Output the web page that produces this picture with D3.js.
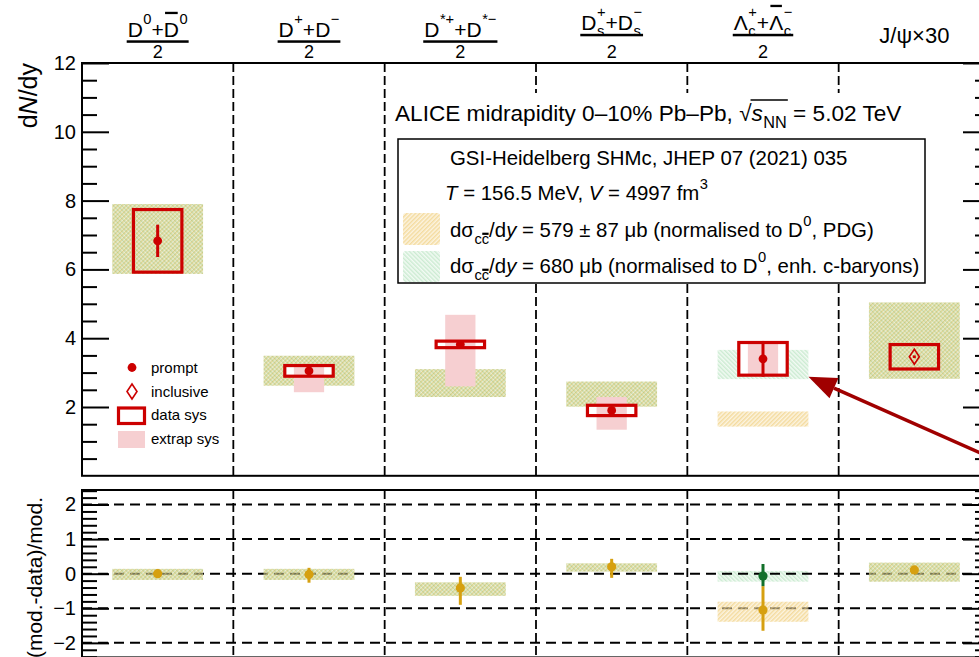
<!DOCTYPE html>
<html>
<head>
<meta charset="utf-8">
<script src="https://cdn.jsdelivr.net/npm/d3@7"></script>
<style>
body { margin: 0; background: #fff; }
svg { font-family: "Liberation Sans", Arial, Helvetica, sans-serif; }
svg text { white-space: pre; }
</style>
</head>
<body>
<svg id="drawing_region" width="979" height="657"></svg>
<script>
// category labels: numerator tokens and denominator
const catNum = [
    [{t:'D', sup:'0'}, {t:'+'}, {t:'D', bar:true, sup:'0'}],
    [{t:'D', sup:'+'}, {t:'+'}, {t:'D', sup:'−'}],
    [{t:'D', sup:'*+'}, {t:'+'}, {t:'D', sup:'*−'}],
    [{t:'D', sup:'+', sub:'s'}, {t:'+'}, {t:'D', sup:'−', sub:'s'}],
    [{t:'Λ', sup:'+', sub:'c'}, {t:'+'}, {t:'Λ', bar:true, sup:'−', sub:'c'}],
    [{t:'J/ψ×30'}]
];
const catDen = ['2', '2', '2', '2', '2', null];

// measured dN/dy
const dataVal  = [6.83, 3.05, 3.82, 1.90, 3.40, 3.46];
const dataStat = [0.47, 0.06, 0.04, 0.05, 0.52, 0.04];
const dataSys  = [0.91, 0.155, 0.095, 0.15, 0.475, 0.355];
const extrapLo = [0, 0.62, 1.22, 0.56, 0.46, 0];
const extrapHi = [0, 0.12, 0.86, 0.39, 0.46, 0];
const dataType = ['prompt', 'prompt', 'prompt', 'prompt', 'prompt', 'inclusive'];

// SHMc predictions, PDG normalisation (yellow) and enhanced c-baryons (green)
const mod1Lo = [5.87, 2.62, 2.29, 2.01, 1.43, 2.82];
const mod1Hi = [7.90, 3.49, 3.10, 2.74, 1.87, 5.04];
const mod2Lo = [5.87, 2.62, 2.29, 2.01, 2.81, 2.82];
const mod2Hi = [7.90, 3.49, 3.10, 2.74, 3.66, 5.04];

// (mod.-data)/mod.
const rat1BandLo = [-0.18, -0.18, -0.64, 0.06, -1.39, -0.23];
const rat1BandHi = [0.14, 0.14, -0.25, 0.30, -0.81, 0.32];
const rat2BandLo = [-0.18, -0.18, -0.64, 0.06, -0.23, -0.23];
const rat2BandHi = [0.14, 0.14, -0.25, 0.30, 0.08, 0.32];
const rat1Val   = [0.0, -0.02, -0.41, 0.20, -1.05, 0.11];
const rat1ErrHi = [0.04, 0.19, 0.32, 0.23, 0.69, 0.0];
const rat1ErrLo = [0.04, 0.24, 0.49, 0.32, 0.60, 0.0];
const rat2Val   = [null, null, null, null, -0.07, null];
const rat2ErrHi = [0, 0, 0, 0, 0.35, 0];
const rat2ErrLo = [0, 0, 0, 0, 0.29, 0];

const yTopTicks = [2, 4, 6, 8, 10, 12];
const yBotTicks = [-2, -1, 0, 1, 2];

const RED = '#cc0000', PINK = '#f6cfd1', GOLD = '#d6a010', GREEN = '#12702a';

const svg = d3.select('#drawing_region');
const left = 82, right = 990;
const x = d3.scaleLinear().domain([0, 6]).range([left, right]);
const yT = d3.scaleLinear().domain([0, 12]).range([475.8, 63]);
const yB = d3.scaleLinear().domain([-2.42, 2.42]).range([657.4, 490]);
const idx = d3.range(6);

// patterns
const defs = svg.append('defs');
function hatch(id, color, angle) {
    const p = defs.append('pattern').attr('id', id)
        .attr('patternUnits', 'userSpaceOnUse').attr('width', 3).attr('height', 3)
        .attr('patternTransform', `rotate(${angle})`);
    p.append('rect').attr('width', 3).attr('height', 3).attr('fill', color.bg);
    p.append('rect').attr('width', 1.5).attr('height', 3).attr('fill', color.fg);
}
hatch('hatchY', {bg: 'rgba(250,234,195,0.5)', fg: 'rgba(238,202,115,0.6)'}, 45);
hatch('hatchG', {bg: 'rgba(225,243,228,0.4)', fg: 'rgba(165,222,178,0.5)'}, -45);

defs.append('clipPath').attr('id', 'clipTop').append('rect')
    .attr('x', left).attr('y', 63).attr('width', right - left).attr('height', 475.8 - 63);
defs.append('clipPath').attr('id', 'clipBot').append('rect')
    .attr('x', left).attr('y', 490).attr('width', right - left).attr('height', 167.4);

// rich text helper
function rich(parent, tokens, fs, opt) {
    opt = opt || {};
    const g = parent.append('g');
    const sfs = fs * (opt.ss || 0.72);
    let cx = 0;
    tokens.forEach(tk => {
        let w = 0;
        const x0 = cx;
        if (tk.t) {
            const m = g.append('text').attr('x', cx).attr('y', 0)
                .style('font-size', fs + 'px').text(tk.t);
            if (tk.it) m.style('font-style', 'italic');
            w = m.node().getComputedTextLength();
            if (tk.bar) g.append('rect').attr('x', cx + fs * 0.06).attr('y', -fs * 1.2)
                .attr('width', w - fs * 0.12).attr('height', fs * 0.11);
        }
        let w2 = 0;
        if (tk.sup) {
            const s = g.append('text').attr('x', cx + w + 0.5).attr('y', -fs * (opt.supUp || 0.5))
                .style('font-size', sfs + 'px').text(tk.sup);
            w2 = s.node().getComputedTextLength() + 0.5;
        }
        if (tk.sub) {
            const s = g.append('text').attr('x', cx + w + 0.5).attr('y', fs * (opt.subDn || 0.28))
                .style('font-size', sfs + 'px').text(tk.sub);
            const sw = s.node().getComputedTextLength();
            if (tk.subBar) g.append('rect').attr('x', cx + w + 0.5 + sw / 2 + 0.5)
                .attr('y', fs * (opt.subDn || 0.28) - sfs * 0.78).attr('width', sw / 2 - 1).attr('height', 2.2);
            w2 = Math.max(w2, sw + 0.5);
        }
        cx += w + w2;
        if (tk.sqrt) g.append('line').attr('x1', x0 + tk.sqrt).attr('x2', cx + 1)
            .attr('y1', -fs * 0.93).attr('y2', -fs * 0.93).attr('stroke', '#000').attr('stroke-width', 1.3);
    });
    return {g: g, width: cx};
}

// ---------- top panel ----------
const topG = svg.append('g');
const topData = topG.append('g').attr('clip-path', 'url(#clipTop)');

// separators
topG.selectAll('.sepT').data(d3.range(1, 6)).join('line')
    .attr('x1', d => x(d)).attr('x2', d => x(d)).attr('y1', 63).attr('y2', 475.8)
    .attr('stroke', '#000').attr('stroke-width', 1.8).attr('stroke-dasharray', '9,4');

// model bands
topData.selectAll('.m1').data(idx).join('rect')
    .attr('x', i => x(i + 0.2)).attr('width', x(0.6) - x(0))
    .attr('y', i => yT(mod1Hi[i])).attr('height', i => yT(mod1Lo[i]) - yT(mod1Hi[i]))
    .attr('fill', 'url(#hatchY)');
topData.selectAll('.m2').data(idx).join('rect')
    .attr('x', i => x(i + 0.2)).attr('width', x(0.6) - x(0))
    .attr('y', i => yT(mod2Hi[i])).attr('height', i => yT(mod2Lo[i]) - yT(mod2Hi[i]))
    .attr('fill', 'url(#hatchG)').style('mix-blend-mode', 'multiply');

// white interior of data boxes that carry extrapolation uncertainty
const withExtrap = idx.filter(i => extrapLo[i] + extrapHi[i] > 0);
topData.selectAll('.wfill').data(withExtrap).join('rect')
    .attr('x', i => x(i + 0.34)).attr('width', x(0.32) - x(0))
    .attr('y', i => yT(dataVal[i] + dataSys[i])).attr('height', i => yT(dataVal[i] - dataSys[i]) - yT(dataVal[i] + dataSys[i]))
    .attr('fill', '#fff');
topData.selectAll('.extrap').data(withExtrap).join('rect')
    .attr('x', i => x(i + 0.4)).attr('width', x(0.2) - x(0))
    .attr('y', i => yT(dataVal[i] + extrapHi[i])).attr('height', i => yT(dataVal[i] - extrapLo[i]) - yT(dataVal[i] + extrapHi[i]))
    .attr('fill', PINK);
topData.selectAll('.sys').data(idx).join('rect')
    .attr('x', i => x(i + 0.34)).attr('width', x(0.32) - x(0))
    .attr('y', i => yT(dataVal[i] + dataSys[i])).attr('height', i => yT(dataVal[i] - dataSys[i]) - yT(dataVal[i] + dataSys[i]))
    .attr('fill', 'none').attr('stroke', RED).attr('stroke-width', 3.2);
topData.selectAll('.stat').data(idx).join('line')
    .attr('x1', i => x(i + 0.5)).attr('x2', i => x(i + 0.5))
    .attr('y1', i => yT(dataVal[i] + dataStat[i])).attr('y2', i => yT(dataVal[i] - dataStat[i]))
    .attr('stroke', RED).attr('stroke-width', 3);
topData.selectAll('.prompt').data(idx.filter(i => dataType[i] === 'prompt')).join('circle')
    .attr('cx', i => x(i + 0.5)).attr('cy', i => yT(dataVal[i])).attr('r', 4.4).attr('fill', RED);
const diamond = (cx, cy) => `M${cx},${cy - 7.5}L${cx + 5},${cy}L${cx},${cy + 7.5}L${cx - 5},${cy}Z`;
topData.selectAll('.incl').data(idx.filter(i => dataType[i] === 'inclusive')).join('path')
    .attr('d', i => diamond(x(i + 0.5), yT(dataVal[i])))
    .attr('fill', 'none').attr('stroke', RED).attr('stroke-width', 1.6);

// axes
function addAxis(g, scale, side, xpos, major, minor, fmt) {
    const mk = side === 'left' ? d3.axisLeft : d3.axisRight;
    const a = g.append('g').attr('transform', `translate(${xpos},0)`)
        .call(mk(scale).tickValues(major).tickSize(-27).tickPadding(6).tickFormat(fmt));
    const b = g.append('g').attr('transform', `translate(${xpos},0)`)
        .call(mk(scale).tickValues(minor).tickSize(-15).tickFormat(''));
    [a, b].forEach(s => {
        s.select('.domain').remove();
        s.selectAll('line').attr('stroke', '#000').attr('stroke-width', 2);
        s.selectAll('text').style('font-size', '20px').attr('fill', '#000')
            .style('font-family', '"Liberation Sans", Arial, sans-serif');
    });
}
const topMinor = d3.range(1, 24).map(v => v / 2).filter(v => v % 2 !== 0);
addAxis(topG, yT, 'left', left, yTopTicks, topMinor, d3.format('d'));
addAxis(topG, yT, 'right', right, yTopTicks, topMinor, () => '');

topG.append('rect').attr('x', left).attr('y', 63).attr('width', right - left).attr('height', 475.8 - 63)
    .attr('fill', 'none').attr('stroke', '#000').attr('stroke-width', 2);

// y title
const ttl = topG.append('text').attr('transform', 'translate(37,63) rotate(-90)')
    .attr('text-anchor', 'end').style('font-size', '25px');
ttl.append('tspan').text('d');
ttl.append('tspan').style('font-style', 'italic').text('N');
ttl.append('tspan').text('/dy');

// category labels
idx.forEach(i => {
    const cx = x(i + 0.5);
    if (!catDen[i]) {
        const r = rich(svg, catNum[i], 22);
        r.g.attr('transform', `translate(${cx - r.width / 2},43)`);
        return;
    }
    const hasSub = catNum[i].some(t => t.sub);
    const barY = hasSub ? 35 : 41.5;
    const r = rich(svg, catNum[i], 21, {ss: 0.7, supUp: 0.62});
    r.g.attr('transform', `translate(${cx - r.width / 2},${hasSub ? 30 : 37})`);
    svg.append('rect').attr('x', cx - r.width / 2 - 1).attr('width', r.width + 2)
        .attr('y', barY - 1.2).attr('height', 2.5).attr('fill', '#000');
    svg.append('text').attr('x', cx).attr('y', 58).attr('text-anchor', 'middle')
        .style('font-size', '18px').text(catDen[i]);
});

// header text with white background
svg.append('rect').attr('x', 390).attr('y', 93).attr('width', 535).attr('height', 46).attr('fill', '#fff');
const alice = rich(svg, [
    {t: 'ALICE midrapidity 0–10% Pb–Pb, '},
    {t: '√'},
    {t: 's', it: true, sub: 'NN', sqrt: -1},
    {t: ' = 5.02 TeV'}
], 22.6, {subDn: 0.3});
alice.g.attr('transform', 'translate(395,121)');

// model legend box
const LFS = 20.4;
svg.append('rect').attr('x', 398).attr('y', 139).attr('width', 527).attr('height', 144)
    .attr('fill', '#fff').attr('stroke', '#000').attr('stroke-width', 1.5);
rich(svg, [{t: 'GSI-Heidelberg SHMc, JHEP 07 (2021) 035'}], LFS).g.attr('transform', 'translate(450,165)');
rich(svg, [{t: 'T', it: true}, {t: ' = 156.5 MeV, '}, {t: 'V', it: true}, {t: ' = 4997 fm', sup: '3'}], LFS, {supUp: 0.55})
    .g.attr('transform', 'translate(445,200)');
rich(svg, [{t: 'dσ', sub: 'cc', subBar: true}, {t: '/d'}, {t: 'y', it: true},
    {t: ' = 579 ± 87 μb (normalised to D', sup: '0'}, {t: ', PDG)'}], LFS, {supUp: 0.55, subDn: 0.35})
    .g.attr('transform', 'translate(450,237)');
rich(svg, [{t: 'dσ', sub: 'cc', subBar: true}, {t: '/d'}, {t: 'y', it: true},
    {t: ' = 680 μb (normalised to D', sup: '0'}, {t: ', enh. c-baryons)'}], LFS, {supUp: 0.55, subDn: 0.35})
    .g.attr('transform', 'translate(450,273)');
svg.append('rect').attr('x', 403).attr('y', 213).attr('width', 37).attr('height', 32).attr('rx', 3)
    .attr('fill', 'url(#hatchY)');
svg.append('rect').attr('x', 403).attr('y', 251).attr('width', 37).attr('height', 31).attr('rx', 3)
    .attr('fill', 'url(#hatchG)');

// data legend
const lg = svg.append('g').style('font-size', '15px');
lg.append('circle').attr('cx', 132).attr('cy', 367.5).attr('r', 4.4).attr('fill', RED);
lg.append('path').attr('d', diamond(132, 391.5)).attr('fill', 'none').attr('stroke', RED).attr('stroke-width', 1.6);
lg.append('rect').attr('x', 118.5).attr('y', 408).attr('width', 26).attr('height', 15.5)
    .attr('fill', 'none').attr('stroke', RED).attr('stroke-width', 3.2);
lg.append('rect').attr('x', 118).attr('y', 431).attr('width', 27).attr('height', 17).attr('fill', PINK);
[['prompt', 372.5], ['inclusive', 396.5], ['data sys', 420], ['extrap sys', 444]].forEach(d => {
    lg.append('text').attr('x', 151).attr('y', d[1]).text(d[0]);
});

// ---------- bottom panel ----------
const botG = svg.append('g');
const botData = botG.append('g').attr('clip-path', 'url(#clipBot)');
botData.selectAll('.grid').data(yBotTicks).join('line')
    .attr('x1', left).attr('x2', right).attr('y1', d => yB(d)).attr('y2', d => yB(d))
    .attr('stroke', '#000').attr('stroke-width', 2).attr('stroke-dasharray', '10,6');
botData.selectAll('.sepB').data(d3.range(1, 6)).join('line')
    .attr('x1', d => x(d)).attr('x2', d => x(d)).attr('y1', 490).attr('y2', 657.4)
    .attr('stroke', '#000').attr('stroke-width', 1.8).attr('stroke-dasharray', '9,4');

botData.selectAll('.rb1').data(idx).join('rect')
    .attr('x', i => x(i + 0.2)).attr('width', x(0.6) - x(0))
    .attr('y', i => yB(rat1BandHi[i])).attr('height', i => yB(rat1BandLo[i]) - yB(rat1BandHi[i]))
    .attr('fill', 'url(#hatchY)');
botData.selectAll('.rb2').data(idx).join('rect')
    .attr('x', i => x(i + 0.2)).attr('width', x(0.6) - x(0))
    .attr('y', i => yB(rat2BandHi[i])).attr('height', i => yB(rat2BandLo[i]) - yB(rat2BandHi[i]))
    .attr('fill', 'url(#hatchG)').style('mix-blend-mode', 'multiply');

botData.selectAll('.re1').data(idx).join('line')
    .attr('x1', i => x(i + 0.5)).attr('x2', i => x(i + 0.5))
    .attr('y1', i => yB(rat1Val[i] + rat1ErrHi[i])).attr('y2', i => yB(rat1Val[i] - rat1ErrLo[i]))
    .attr('stroke', GOLD).attr('stroke-width', 3);
botData.selectAll('.rp1').data(idx).join('circle')
    .attr('cx', i => x(i + 0.5)).attr('cy', i => yB(rat1Val[i])).attr('r', 4.6).attr('fill', GOLD);
const has2 = idx.filter(i => rat2Val[i] !== null);
botData.selectAll('.re2').data(has2).join('line')
    .attr('x1', i => x(i + 0.5)).attr('x2', i => x(i + 0.5))
    .attr('y1', i => yB(rat2Val[i] + rat2ErrHi[i])).attr('y2', i => yB(rat2Val[i] - rat2ErrLo[i]))
    .attr('stroke', GREEN).attr('stroke-width', 3);
botData.selectAll('.rp2').data(has2).join('circle')
    .attr('cx', i => x(i + 0.5)).attr('cy', i => yB(rat2Val[i])).attr('r', 4.6).attr('fill', GREEN);

const botMinor = d3.range(-12, 13).map(v => v / 5).filter(v => Math.abs(v - Math.round(v)) > 1e-6);
addAxis(botG, yB, 'left', left, yBotTicks, botMinor, d3.format('d'));
addAxis(botG, yB, 'right', right, yBotTicks, botMinor, () => '');
botG.append('rect').attr('x', left).attr('y', 490).attr('width', right - left).attr('height', 167.4)
    .attr('fill', 'none').attr('stroke', '#000').attr('stroke-width', 2);
botG.append('text').attr('transform', 'translate(42,497) rotate(-90)')
    .attr('text-anchor', 'end').style('font-size', '21px').text('(mod.-data)/mod.');

// arrow pointing at the Lambda_c enhanced prediction
const tip = [x(4.8), yT(2.88)], tail = [x(6.07), yT(0.4)];
const len = Math.hypot(tip[0] - tail[0], tip[1] - tail[1]);
const ux = (tail[0] - tip[0]) / len, uy = (tail[1] - tip[1]) / len;
const bx = tip[0] + 28 * ux, by = tip[1] + 28 * uy;
svg.append('line').attr('x1', tail[0]).attr('y1', tail[1]).attr('x2', bx).attr('y2', by)
    .attr('stroke', '#a00000').attr('stroke-width', 3.5);
svg.append('path')
    .attr('d', `M${tip[0]},${tip[1]}L${bx - 11 * uy},${by + 11 * ux}L${bx + 11 * uy},${by - 11 * ux}Z`)
    .attr('fill', '#a00000');
</script>
</body>
</html>
